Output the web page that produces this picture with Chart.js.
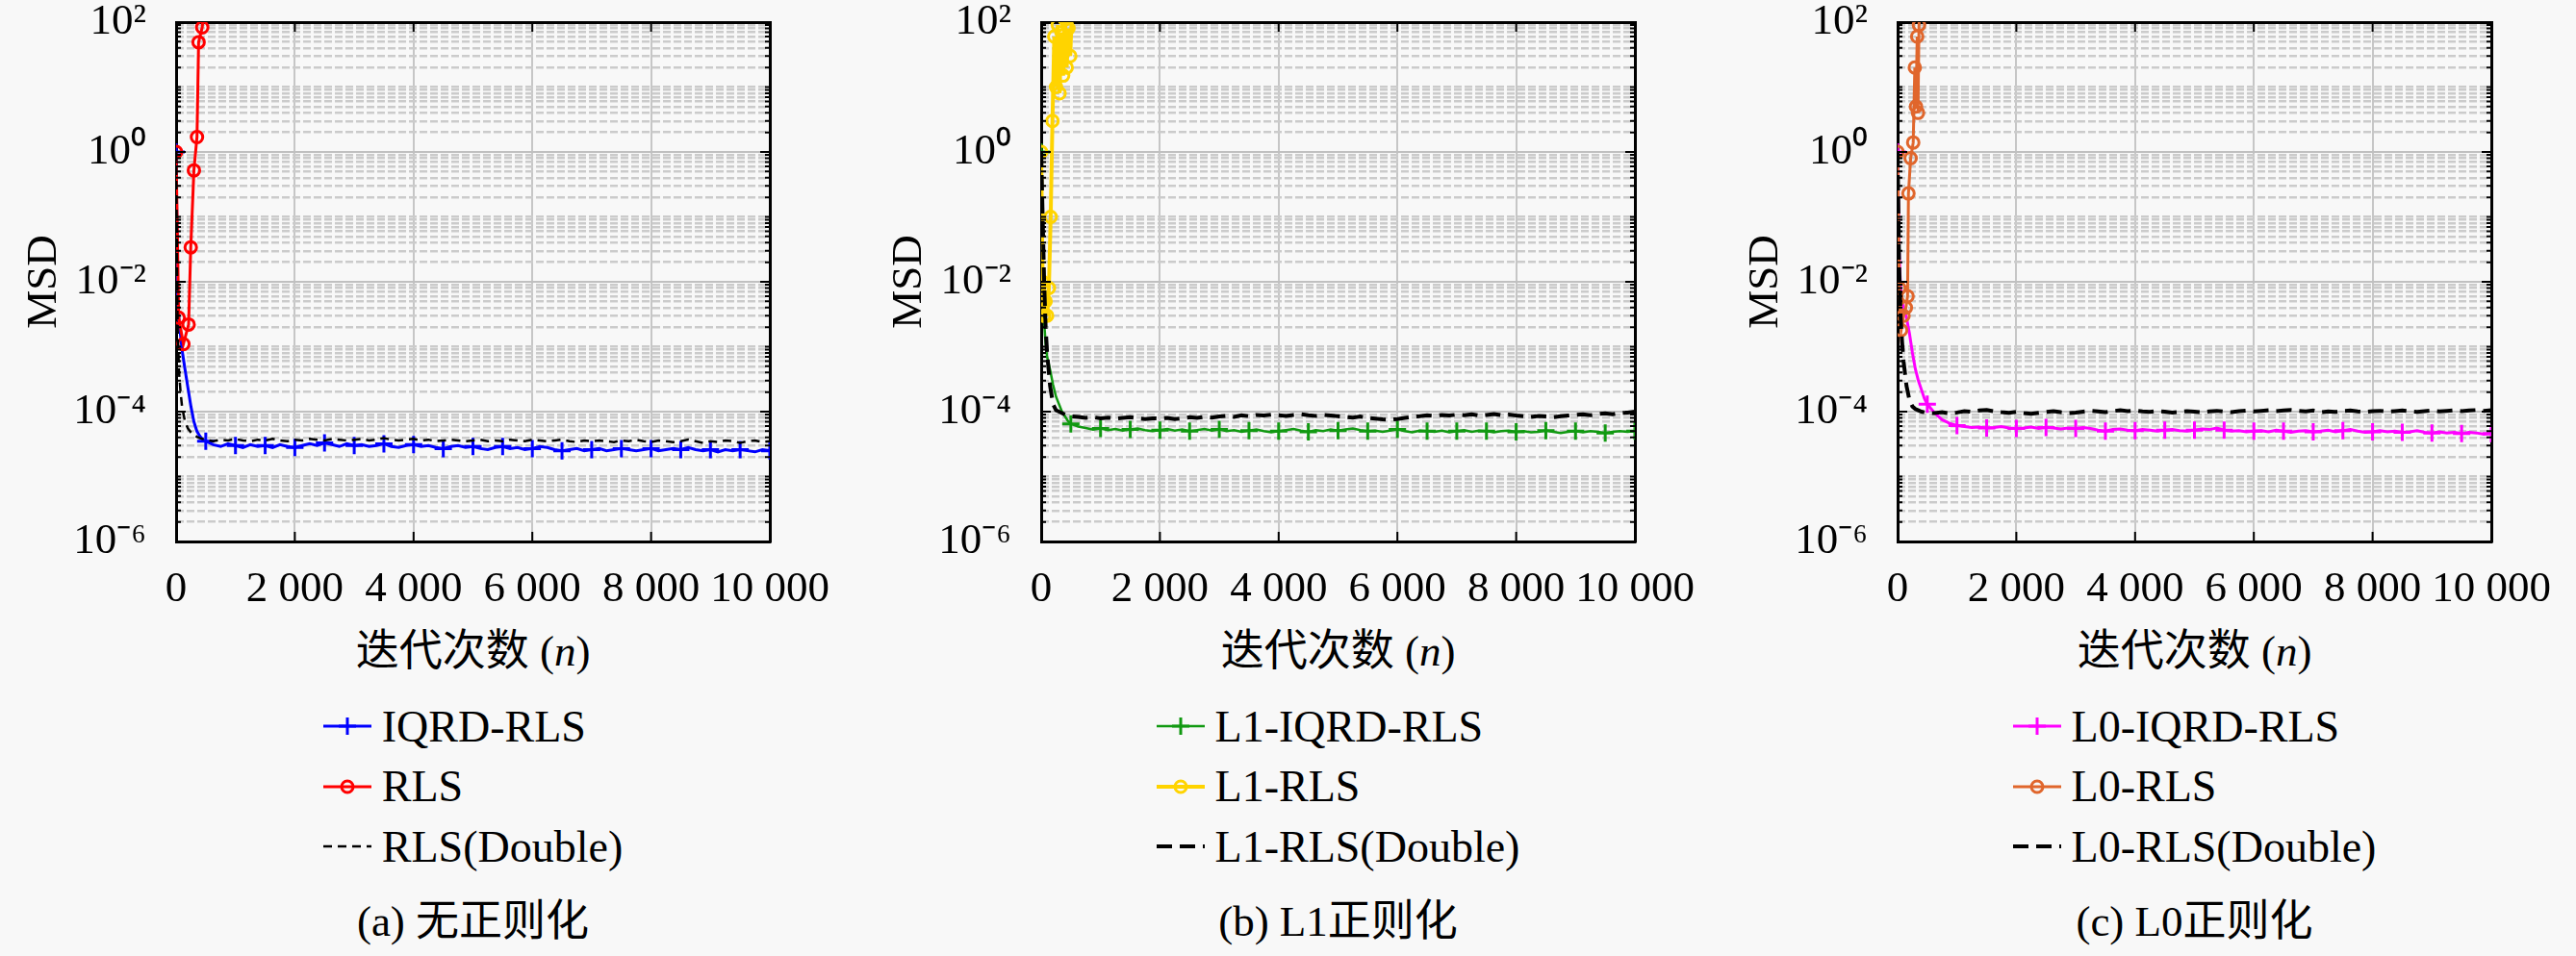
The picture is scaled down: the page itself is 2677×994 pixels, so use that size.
<!DOCTYPE html>
<html>
<head>
<meta charset="utf-8">
<script src="https://cdn.jsdelivr.net/npm/chart.js@4.4.0/dist/chart.umd.min.js"></script>
<style>
  html, body { margin: 0; padding: 0; background: #f8f8f8; }
  body { width: 2677px; height: 994px; position: relative; overflow: hidden;
         font-family: "Liberation Serif", "Times New Roman", "Noto Sans CJK SC", serif; color: #000; }
  .panel { position: absolute; top: 0; width: 880px; height: 994px; }
  .panel canvas { position: absolute; left: 0; top: 0; }
  .xlab { position: absolute; left: 183px; width: 617px; top: 651px; text-align: center;
          font-size: 45px; line-height: 52px; white-space: nowrap; }
  .legwrap { position: absolute; left: 183px; width: 617px; top: 724px; text-align: center; }
  .legend { display: inline-block; text-align: left; }
  .row { height: 62.5px; display: flex; align-items: center; font-size: 46px; white-space: nowrap; }
  .row svg { margin-right: 11px; flex: none; }
  .cap { position: absolute; left: 183px; width: 617px; top: 932px; text-align: center;
         font-size: 45px; line-height: 52px; white-space: nowrap; }
</style>
</head>
<body>

<div class="panel" style="left:0px">
  <canvas id="chartA" width="880" height="650"></canvas>
  <div class="xlab">迭代次数 (<i>n</i>)</div>
  <div class="legwrap"><div class="legend" id="legendA"></div></div>
  <div class="cap">(a) 无正则化</div>
</div>

<div class="panel" style="left:899px">
  <canvas id="chartB" width="880" height="650"></canvas>
  <div class="xlab">迭代次数 (<i>n</i>)</div>
  <div class="legwrap"><div class="legend" id="legendB"></div></div>
  <div class="cap">(b) L1正则化</div>
</div>

<div class="panel" style="left:1789px">
  <canvas id="chartC" width="880" height="650"></canvas>
  <div class="xlab">迭代次数 (<i>n</i>)</div>
  <div class="legwrap"><div class="legend" id="legendC"></div></div>
  <div class="cap">(c) L0正则化</div>
</div>

<script>
// axis ticks
const xTicks = [0, 2000, 4000, 6000, 8000, 10000];
const xLabels = ['0', '2 000', '4 000', '6 000', '8 000', '10 000'];
const yMajor = [1e-6, 1e-4, 1e-2, 1, 1e2];
const yLabels = ['10⁻⁶', '10⁻⁴', '10⁻²', '10⁰', '10²'];
const yMinor = [
  2e-6, 3e-6, 4e-6, 5e-6, 6e-6, 7e-6, 8e-6, 9e-6, 1e-5,
  2e-5, 3e-5, 4e-5, 5e-5, 6e-5, 7e-5, 8e-5, 9e-5,
  2e-4, 3e-4, 4e-4, 5e-4, 6e-4, 7e-4, 8e-4, 9e-4, 1e-3,
  2e-3, 3e-3, 4e-3, 5e-3, 6e-3, 7e-3, 8e-3, 9e-3,
  2e-2, 3e-2, 4e-2, 5e-2, 6e-2, 7e-2, 8e-2, 9e-2, 1e-1,
  2e-1, 3e-1, 4e-1, 5e-1, 6e-1, 7e-1, 8e-1, 9e-1,
  2, 3, 4, 5, 6, 7, 8, 9, 10,
  20, 30, 40, 50, 60, 70, 80, 90
];

// iteration index of the converging curves
const iters = [
  0, 25, 50, 75, 100, 150, 200, 250, 300, 350, 400, 450, 500,
  625, 750, 875, 1000,
  1125, 1250, 1375, 1500, 1625, 1750, 1875, 2000,
  2125, 2250, 2375, 2500, 2625, 2750, 2875, 3000,
  3125, 3250, 3375, 3500, 3625, 3750, 3875, 4000,
  4125, 4250, 4375, 4500, 4625, 4750, 4875, 5000,
  5125, 5250, 5375, 5500, 5625, 5750, 5875, 6000,
  6125, 6250, 6375, 6500, 6625, 6750, 6875, 7000,
  7125, 7250, 7375, 7500, 7625, 7750, 7875, 8000,
  8125, 8250, 8375, 8500, 8625, 8750, 8875, 9000,
  9125, 9250, 9375, 9500, 9625, 9750, 9875, 10000
];

// (a) no regularisation
const iqrdA = [
  1, 6e-3, 2.5e-3, 1.5e-3, 9e-4, 4.5e-4, 2.3e-4, 1.2e-4, 7e-5, 5e-5, 4.2e-5, 3.7e-5, 3.5e-5,
  3.1e-5, 2.9e-5, 3.2e-5, 3.0e-5,
  2.8e-5, 3.1e-5, 2.9e-5, 3.0e-5, 2.8e-5, 3.1e-5, 2.9e-5, 2.8e-5,
  3.0e-5, 3.2e-5, 3.0e-5, 3.3e-5, 3.1e-5, 2.9e-5, 3.2e-5, 3.0e-5,
  3.1e-5, 2.9e-5, 3.0e-5, 3.2e-5, 2.9e-5, 2.8e-5, 3.0e-5, 3.1e-5,
  2.9e-5, 3.0e-5, 2.8e-5, 2.7e-5, 2.9e-5, 3.0e-5, 2.8e-5, 2.9e-5,
  2.7e-5, 2.6e-5, 2.8e-5, 2.9e-5, 2.7e-5, 2.8e-5, 2.6e-5, 2.7e-5,
  2.9e-5, 2.8e-5, 2.6e-5, 2.5e-5, 2.6e-5, 2.7e-5, 2.5e-5, 2.6e-5,
  2.7e-5, 2.5e-5, 2.6e-5, 2.7e-5, 2.6e-5, 2.5e-5, 2.6e-5, 2.7e-5,
  2.5e-5, 2.6e-5, 2.7e-5, 2.6e-5, 2.8e-5, 2.6e-5, 2.5e-5, 2.6e-5,
  2.4e-5, 2.6e-5, 2.5e-5, 2.6e-5, 2.5e-5, 2.4e-5, 2.6e-5, 2.5e-5
];
const doubleA = [
  1, 2e-3, 4e-4, 2e-4, 1.2e-4, 7e-5, 5.5e-5, 4.8e-5, 4.4e-5, 4.1e-5, 3.9e-5, 3.8e-5, 3.7e-5,
  3.5e-5, 3.7e-5, 3.6e-5, 3.8e-5,
  3.6e-5, 3.5e-5, 3.7e-5, 3.6e-5, 3.8e-5, 3.6e-5, 3.5e-5, 3.7e-5,
  3.6e-5, 3.8e-5, 3.7e-5, 3.6e-5, 3.8e-5, 3.7e-5, 3.6e-5, 3.7e-5,
  3.8e-5, 3.6e-5, 3.7e-5, 3.9e-5, 3.7e-5, 3.6e-5, 3.7e-5, 3.8e-5,
  3.6e-5, 3.7e-5, 3.5e-5, 3.6e-5, 3.7e-5, 3.6e-5, 3.5e-5, 3.6e-5,
  3.7e-5, 3.5e-5, 3.6e-5, 3.5e-5, 3.7e-5, 3.6e-5, 3.5e-5, 3.7e-5,
  3.6e-5, 3.5e-5, 3.6e-5, 3.7e-5, 3.5e-5, 3.4e-5, 3.6e-5, 3.5e-5,
  3.6e-5, 3.5e-5, 3.4e-5, 3.6e-5, 3.5e-5, 3.7e-5, 3.5e-5, 3.4e-5,
  3.6e-5, 3.5e-5, 3.4e-5, 3.5e-5, 3.7e-5, 3.5e-5, 3.3e-5, 3.5e-5,
  3.4e-5, 3.6e-5, 3.5e-5, 3.3e-5, 3.5e-5, 3.6e-5, 3.4e-5, 3.5e-5
];
const rlsItersA = [0, 44, 123, 211, 247, 300, 352, 379, 440, 470];
const rlsA = [1, 2.8e-3, 1.1e-3, 2.2e-3, 3.4e-2, 0.52, 1.7, 49, 83, 160];

// (b) L1 regularisation
const iqrdB = [
  1, 1e-2, 2.4e-3, 1.1e-3, 7e-4, 4.4e-4, 2.6e-4, 1.7e-4, 1.3e-4, 1.0e-4, 8.5e-5, 7.2e-5, 6.5e-5,
  5.9e-5, 5.6e-5, 5.3e-5, 5.5e-5,
  5.2e-5, 5.4e-5, 5.1e-5, 5.3e-5, 5.5e-5, 5.2e-5, 5.0e-5, 5.2e-5,
  5.4e-5, 5.1e-5, 5.3e-5, 5.0e-5, 5.2e-5, 5.4e-5, 5.1e-5, 5.3e-5,
  5.0e-5, 5.2e-5, 4.9e-5, 5.1e-5, 5.3e-5, 5.0e-5, 4.8e-5, 5.0e-5,
  5.2e-5, 5.4e-5, 5.1e-5, 4.9e-5, 5.2e-5, 5.0e-5, 5.3e-5, 5.1e-5,
  5.3e-5, 5.5e-5, 5.2e-5, 5.0e-5, 5.1e-5, 4.9e-5, 5.1e-5, 5.3e-5,
  5.0e-5, 4.8e-5, 5.1e-5, 5.0e-5, 4.9e-5, 5.1e-5, 4.8e-5, 5.0e-5,
  5.2e-5, 4.9e-5, 5.1e-5, 5.0e-5, 4.8e-5, 5.0e-5, 5.1e-5, 4.9e-5,
  5.0e-5, 4.8e-5, 4.9e-5, 5.1e-5, 4.9e-5, 4.7e-5, 4.9e-5, 5.0e-5,
  4.8e-5, 5.0e-5, 4.9e-5, 4.7e-5, 4.9e-5, 5.0e-5, 4.9e-5, 5.0e-5
];
const doubleB = [
  1, 0.1, 0.01, 2e-3, 8e-4, 2.5e-4, 1.3e-4, 1.05e-4, 1.0e-4, 9.5e-5, 9.0e-5, 8.7e-5, 8.5e-5,
  8.3e-5, 8.0e-5, 8.2e-5, 7.9e-5,
  8.1e-5, 7.8e-5, 8.0e-5, 8.2e-5, 7.9e-5, 7.7e-5, 7.9e-5, 7.8e-5,
  8.0e-5, 7.7e-5, 7.9e-5, 8.2e-5, 8.0e-5, 8.3e-5, 8.1e-5, 8.4e-5,
  8.6e-5, 8.3e-5, 8.8e-5, 8.5e-5, 8.9e-5, 8.7e-5, 9.0e-5, 8.8e-5,
  8.6e-5, 8.9e-5, 9.1e-5, 8.8e-5, 8.6e-5, 8.9e-5, 8.7e-5, 8.5e-5,
  8.3e-5, 8.1e-5, 8.4e-5, 8.0e-5, 7.8e-5, 7.6e-5, 7.5e-5, 7.7e-5,
  8.0e-5, 8.3e-5, 8.5e-5, 8.8e-5, 8.6e-5, 8.9e-5, 8.7e-5, 9.0e-5,
  8.8e-5, 9.1e-5, 8.7e-5, 8.9e-5, 9.2e-5, 8.8e-5, 9.0e-5, 8.7e-5,
  8.5e-5, 8.3e-5, 8.6e-5, 8.4e-5, 8.2e-5, 8.5e-5, 8.7e-5, 8.9e-5,
  9.1e-5, 8.8e-5, 9.2e-5, 9.4e-5, 9.1e-5, 9.5e-5, 9.7e-5, 1.0e-4
];
const rlsItersB = [0, 25, 50, 75, 100, 130, 160, 190, 220, 250, 280, 310, 340, 370, 400, 430, 460, 490, 520];
const rlsB = [1, 1e-2, 3e-3, 5e-3, 3e-3, 8e-3, 0.1, 3, 60, 10, 90, 8, 70, 15, 110, 20, 80, 30, 160];

// (c) L0 regularisation
const iqrdC = [
  1, 3e-2, 8e-3, 5e-3, 4e-3, 2.8e-3, 1.6e-3, 8e-4, 4.5e-4, 3.0e-4, 2.2e-4, 1.6e-4, 1.3e-4,
  9.5e-5, 7.5e-5, 6.6e-5, 6.1e-5,
  5.9e-5, 5.7e-5, 5.8e-5, 5.6e-5, 5.7e-5, 5.9e-5, 5.6e-5, 5.5e-5,
  5.6e-5, 5.8e-5, 5.5e-5, 5.7e-5, 5.6e-5, 5.4e-5, 5.6e-5, 5.5e-5,
  5.7e-5, 5.5e-5, 5.2e-5, 5.0e-5, 5.3e-5, 5.4e-5, 5.2e-5, 5.1e-5,
  5.3e-5, 5.2e-5, 5.0e-5, 5.2e-5, 5.3e-5, 5.1e-5, 5.0e-5, 5.2e-5,
  5.4e-5, 5.3e-5, 5.6e-5, 5.2e-5, 5.0e-5, 5.1e-5, 4.9e-5, 5.0e-5,
  5.1e-5, 4.9e-5, 5.2e-5, 5.0e-5, 4.8e-5, 5.0e-5, 5.1e-5, 4.9e-5,
  5.0e-5, 5.2e-5, 4.9e-5, 5.1e-5, 5.3e-5, 5.0e-5, 4.8e-5, 4.9e-5,
  5.1e-5, 4.9e-5, 5.0e-5, 4.8e-5, 4.9e-5, 5.1e-5, 4.8e-5, 4.7e-5,
  4.9e-5, 4.7e-5, 4.8e-5, 4.6e-5, 4.8e-5, 4.7e-5, 4.5e-5, 4.6e-5
];
const doubleC = [
  1, 2e-2, 3e-3, 1.2e-3, 6e-4, 2.5e-4, 1.5e-4, 1.2e-4, 1.1e-4, 1.05e-4, 1.0e-4, 9.8e-5, 9.6e-5,
  9.5e-5, 9.8e-5, 9.4e-5, 9.7e-5,
  1.02e-4, 9.9e-5, 1.04e-4, 1.06e-4, 1.01e-4, 9.8e-5, 9.6e-5, 9.9e-5,
  9.5e-5, 9.3e-5, 9.6e-5, 9.9e-5, 1.02e-4, 9.8e-5, 9.5e-5, 9.7e-5,
  1.0e-4, 1.03e-4, 1.01e-4, 9.8e-5, 1.02e-4, 1.05e-4, 1.02e-4, 1.04e-4,
  1.01e-4, 9.9e-5, 1.02e-4, 1.0e-4, 9.7e-5, 9.9e-5, 1.02e-4, 1.0e-4,
  9.8e-5, 1.01e-4, 1.03e-4, 1.0e-4, 9.8e-5, 1.02e-4, 1.04e-4, 1.01e-4,
  1.03e-4, 1.05e-4, 1.02e-4, 1.04e-4, 1.06e-4, 1.03e-4, 1.01e-4, 1.04e-4,
  9.8e-5, 1.01e-4, 9.9e-5, 1.02e-4, 1.04e-4, 1.01e-4, 9.9e-5, 1.02e-4,
  1.03e-4, 1.0e-4, 1.02e-4, 1.04e-4, 1.01e-4, 9.9e-5, 1.02e-4, 1.04e-4,
  1.01e-4, 1.03e-4, 1.05e-4, 1.02e-4, 1.04e-4, 1.06e-4, 1.03e-4, 1.05e-4
];
const rlsItersC = [0, 30, 60, 100, 140, 168, 183, 220, 263, 290, 310, 330, 344, 360, 375];
const rlsC = [1, 8e-3, 1.8e-3, 3e-3, 4e-3, 6e-3, 0.23, 0.8, 1.4, 20, 5, 60, 4, 90, 160];

const tickFont = { family: '"Liberation Serif", "Times New Roman", serif', size: 45 };

function points(xs, ys) {
  return xs.map((x, i) => ({ x: x, y: ys[i] }));
}

// '+' marker every 500 iterations, like the reference
function every500(ctx) {
  return iters[ctx.dataIndex] % 500 === 0 ? 9 : 0;
}

function convSeries(label, values, color, width) {
  return {
    label: label, data: points(iters, values), borderColor: color, borderWidth: width,
    pointStyle: 'cross', pointRadius: every500, pointBorderWidth: 3, pointBorderColor: color,
    order: 3, marker: 'cross'
  };
}

function divSeries(label, xs, values, color, width) {
  return {
    label: label, data: points(xs, values), borderColor: color, borderWidth: width,
    pointStyle: 'circle', pointRadius: 6, pointBorderWidth: 3, pointBorderColor: color,
    pointBackgroundColor: 'rgba(0,0,0,0)', order: 2, marker: 'circle'
  };
}

function doubleSeries(label, values, width, dash) {
  return {
    label: label, data: points(iters, values), borderColor: '#000', borderWidth: width,
    borderDash: dash, pointRadius: 0, order: 1, marker: null
  };
}

// tick marks pointing into the box, MATLAB style
const innerTicks = {
  id: 'innerTicks',
  afterDatasetsDraw(chart) {
    const { ctx, chartArea: a, scales } = chart;
    ctx.save();
    ctx.strokeStyle = '#000';
    ctx.lineWidth = 2;
    ctx.beginPath();
    yMinor.forEach(v => {
      const p = scales.y.getPixelForValue(v);
      ctx.moveTo(a.left, p); ctx.lineTo(a.left + 5, p);
      ctx.moveTo(a.right, p); ctx.lineTo(a.right - 5, p);
    });
    yMajor.forEach(v => {
      const p = scales.y.getPixelForValue(v);
      ctx.moveTo(a.left, p); ctx.lineTo(a.left + 10, p);
      ctx.moveTo(a.right, p); ctx.lineTo(a.right - 10, p);
    });
    xTicks.forEach(v => {
      const p = scales.x.getPixelForValue(v);
      ctx.moveTo(p, a.bottom); ctx.lineTo(p, a.bottom - 10);
      ctx.moveTo(p, a.top); ctx.lineTo(p, a.top + 10);
    });
    ctx.stroke();
    ctx.restore();
  }
};

function drawChart(canvasId, datasets) {
  datasets.forEach(d => { d.xAxisID = 'x'; d.yAxisID = 'y'; d.tension = 0; d.fill = false; });
  return new Chart(document.getElementById(canvasId), {
    type: 'line',
    data: { datasets: datasets },
    plugins: [innerTicks],
    options: {
      responsive: false,
      animation: false,
      events: [],
      layout: { padding: 0 },
      plugins: { legend: { display: false }, tooltip: { enabled: false } },
      scales: {
        x: {
          type: 'linear', position: 'bottom', min: 0, max: 10000,
          afterBuildTicks: s => { s.ticks = xTicks.map(v => ({ value: v })); },
          afterFit: s => { s.height = 87; s.paddingLeft = 0; s.paddingRight = 0; },
          ticks: { callback: (v, i) => xLabels[i], font: tickFont, color: '#000', padding: 23, maxRotation: 0, autoSkip: false },
          grid: { color: '#c6c6c6', lineWidth: 2, drawTicks: false },
          border: { display: true, color: '#000', width: 3 }
        },
        xTop: {
          type: 'linear', position: 'top', min: 0, max: 10000,
          afterFit: s => { s.height = 23; s.paddingLeft = 0; s.paddingRight = 0; },
          ticks: { display: false },
          grid: { display: false, drawTicks: false },
          border: { display: true, color: '#000', width: 3 }
        },
        y: {
          type: 'logarithmic', position: 'left', min: 1e-6, max: 1e2,
          afterBuildTicks: s => { s.ticks = yMajor.map(v => ({ value: v })); },
          afterFit: s => { s.width = 183; s.paddingTop = 0; s.paddingBottom = 0; },
          ticks: { callback: (v, i) => yLabels[i], font: tickFont, color: '#000', padding: 31, autoSkip: false },
          grid: { color: '#c0c0c0', lineWidth: 2, drawTicks: false },
          border: { display: true, color: '#000', width: 3 },
          title: { display: true, text: 'MSD', font: tickFont, color: '#000', padding: { top: 19, bottom: 0 } }
        },
        yMinor: {
          type: 'logarithmic', position: 'right', min: 1e-6, max: 1e2,
          afterBuildTicks: s => { s.ticks = yMinor.map(v => ({ value: v })); },
          afterFit: s => { s.width = 80; s.paddingTop = 0; s.paddingBottom = 0; },
          ticks: { display: false },
          grid: { color: '#cbcbcb', lineWidth: 2.5, drawTicks: false },
          border: { display: true, color: '#000', width: 3, dash: [8, 3] }
        }
      }
    }
  });
}

function sampleSvg(d) {
  const dash = d.borderDash ? ` stroke-dasharray="${d.borderDash.join(' ')}"` : '';
  let svg = `<svg width="50" height="30" viewBox="0 0 50 30">`;
  svg += `<line x1="0" y1="15" x2="50" y2="15" stroke="${d.borderColor}" stroke-width="${d.borderWidth}"${dash}/>`;
  if (d.marker === 'cross') {
    svg += `<line x1="25" y1="6" x2="25" y2="24" stroke="${d.borderColor}" stroke-width="3"/>`;
    svg += `<line x1="16" y1="15" x2="34" y2="15" stroke="${d.borderColor}" stroke-width="3"/>`;
  }
  if (d.marker === 'circle') {
    svg += `<circle cx="25" cy="15" r="6" fill="none" stroke="${d.borderColor}" stroke-width="3"/>`;
  }
  return svg + '</svg>';
}

function fillLegend(id, datasets) {
  const box = document.getElementById(id);
  datasets.forEach(d => {
    const row = document.createElement('div');
    row.className = 'row';
    row.innerHTML = sampleSvg(d) + `<span>${d.label}</span>`;
    box.appendChild(row);
  });
}

const setA = [
  convSeries('IQRD-RLS', iqrdA, '#0000ff', 3),
  divSeries('RLS', rlsItersA, rlsA, '#ff0000', 3),
  doubleSeries('RLS(Double)', doubleA, 2.5, [9, 6])
];
const setB = [
  convSeries('L1-IQRD-RLS', iqrdB, '#119911', 2.5),
  divSeries('L1-RLS', rlsItersB, rlsB, '#ffd400', 4),
  doubleSeries('L1-RLS(Double)', doubleB, 4, [16, 8])
];
const setC = [
  convSeries('L0-IQRD-RLS', iqrdC, '#ff00ff', 3),
  divSeries('L0-RLS', rlsItersC, rlsC, '#e0662c', 3),
  doubleSeries('L0-RLS(Double)', doubleC, 4, [16, 8])
];

fillLegend('legendA', setA);
fillLegend('legendB', setB);
fillLegend('legendC', setC);

drawChart('chartA', setA);
drawChart('chartB', setB);
drawChart('chartC', setC);
</script>
</body>
</html>
